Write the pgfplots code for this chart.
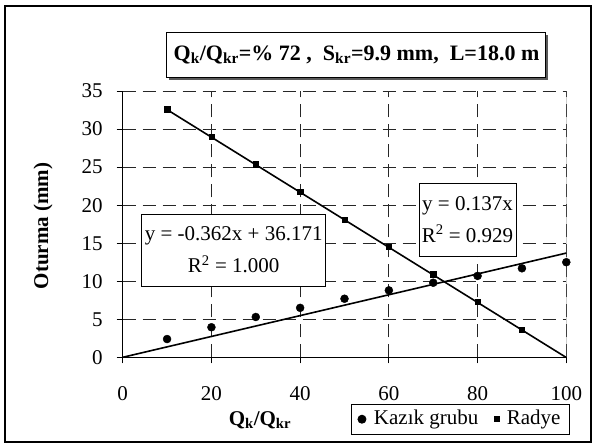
\documentclass[border=0pt]{standalone}
\usepackage{pgfplots}
\pgfplotsset{compat=1.18}
\usepackage{fontspec}
\setmainfont{Liberation Serif}
\begin{document}
\fontsize{21}{25}\selectfont
\begin{tikzpicture}[x=1pt,y=1pt]
\path (0,0) rectangle (597,-444);
\draw[line width=1.8pt] (5,-6) rectangle (591,-442);
\begin{axis}[
  at={(122.7pt,-357.3pt)}, anchor=south west,
  scale only axis, width=443.6pt, height=266.3pt,
  xmin=0, xmax=100, ymin=0, ymax=35,
  xtick={0,20,...,100}, ytick={0,5,...,35},
  axis lines=left, axis line style={-, line width=0.9pt},
  tick align=outside, major tick length=6pt,
  tick style={black, line width=0.9pt},
  grid=major, grid style={black!85, dash pattern=on 13pt off 7pt, line width=0.9pt},
  /pgf/number format/assume math mode=true,
  xticklabel style={yshift=-16pt},
  yticklabel style={xshift=-7pt},
  legend columns=2,
  legend style={at={(1.008,-0.175)}, anchor=north east, draw=black, line width=0.9pt,
    font=\fontsize{21}{25}\selectfont, inner xsep=7pt, inner ysep=4pt,
    /tikz/column 1/.style={column sep=6pt},
    /tikz/column 2/.style={column sep=14pt},
    /tikz/column 3/.style={column sep=5pt}},
  legend cell align=left,
]
\draw[black!55, line width=1.2pt] (rel axis cs:1,0) -- (rel axis cs:1,1);
\addplot[black, line width=1.6pt, forget plot] coordinates {(0,0) (100,13.7)};
\addplot[black, line width=1.6pt, forget plot] coordinates {(10,32.551) (100,-0.029)};
\addplot[only marks, mark=*, mark size=4pt, black] coordinates {
(10,2.4) (20,3.95) (30,5.3) (40,6.5) (50,7.7) (60,8.8) (70,9.8) (80,10.7) (90,11.7) (100,12.5)};
\addlegendentry{Kazık grubu}
\addplot[only marks, mark=square*, mark size=2.7pt, black] coordinates {
(10,32.6) (20,29.0) (30,25.4) (40,21.8) (50,18.1) (60,14.5) (70,10.9) (80,7.3) (90,3.6)};
\addlegendentry{Radye}
\end{axis}
\node[rotate=90, font=\bfseries] at (43,-226) {Oturma (mm)};
\node[font=\bfseries] at (260,-420) {Q\textsubscript{k}/Q\textsubscript{kr}};
% title box with shadow
\fill[black!65] (169,-35) rectangle (548,-80);
\draw[fill=white, line width=0.9pt] (166,-32) rectangle (545,-77);
\node[font=\fontsize{22}{25}\bfseries] at (356.5,-54.5) {Q\textsubscript{k}/Q\textsubscript{kr}=\% 72 , \ S\textsubscript{kr}=9.9 mm,\ \ L=18.0 m};
% equation boxes
\draw[fill=white, line width=0.9pt] (141.7,-214) rectangle (325.7,-286);
\node[align=center, font=\fontsize{21}{32}\selectfont] at (233.7,-250) {y = -0.362x + 36.171\\R\textsuperscript{2} = 1.000};
\draw[fill=white, line width=0.9pt] (419,-183) rectangle (516,-256);
\node[align=center, font=\fontsize{21}{32}\selectfont] at (467.5,-219.5) {y = 0.137x\\R\textsuperscript{2} = 0.929};
\end{tikzpicture}
\end{document}
